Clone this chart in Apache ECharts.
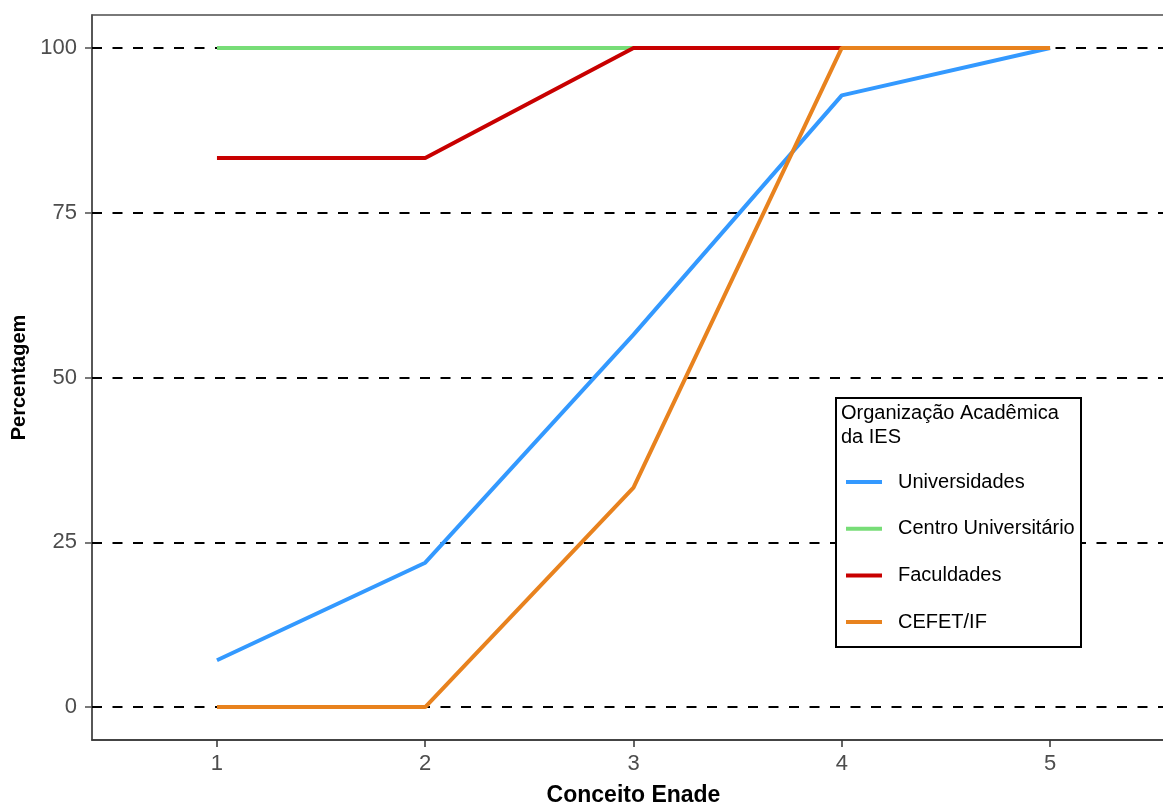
<!DOCTYPE html>
<html>
<head>
<meta charset="utf-8">
<script src="https://cdn.jsdelivr.net/npm/echarts@6/dist/echarts.min.js"></script>
<style>
html,body{margin:0;padding:0;background:#fff;}
#main{width:1163px;height:802px;}
</style>
</head>
<body>
<div id="main"></div>
<script>
const conceitos = [1, 2, 3, 4, 5];
const universidades = [7.1, 21.9, 56.5, 92.8, 100];
const centroUniversitario = [100, 100, 100, 100, 100];
const faculdades = [83.3, 83.3, 100, 100, 100];
const cefetIf = [0, 0, 33.3, 100, 100];
const seriesNames = ['Universidades', 'Centro Universitário', 'Faculdades', 'CEFET/IF'];
const seriesColors = ['#3399FF', '#77DD77', '#C80000', '#E8821E'];
const yTicks = [0, 25, 50, 75, 100];
const xTicks = [1, 2, 3, 4, 5];
const legendTitle = 'Organização Acadêmica\nda IES';

const FONT = '"Liberation Sans", Arial, sans-serif';
const values = [universidades, centroUniversitario, faculdades, cefetIf];

const chart = echarts.init(document.getElementById('main'), null, {renderer: 'canvas'});

const lineSeries = values.map((arr, i) => ({
  name: seriesNames[i],
  type: 'line',
  data: conceitos.map((c, j) => [c, arr[j]]),
  showSymbol: false,
  symbol: 'none',
  lineStyle: {color: seriesColors[i], width: 4},
  itemStyle: {color: seriesColors[i]},
  z: 10 + i,
  animation: false,
  clip: false
}));

const option = {
  animation: false,
  backgroundColor: '#fff',
  grid: {left: 92, top: 15, width: 1083, height: 725, containLabel: false, outerBoundsMode: 'none',
    show: true, borderColor: '#4d4d4d', borderWidth: 1.5, backgroundColor: 'transparent'},
  xAxis: {
    type: 'value', min: 0.4, max: 5.6,
    name: 'Conceito Enade', nameLocation: 'middle', nameGap: 44,
    nameTextStyle: {fontFamily: FONT, fontSize: 23, fontWeight: 'bold', color: '#000'},
    axisLine: {show: true, onZero: false, lineStyle: {color: '#333', width: 1.5}},
    axisTick: {show: true, customValues: xTicks, length: 7, lineStyle: {color: '#333', width: 1.5}},
    axisLabel: {customValues: xTicks, fontFamily: FONT, fontSize: 22, color: '#4d4d4d', margin: 13},
    splitLine: {show: false}
  },
  yAxis: {
    type: 'value', min: -5, max: 105,
    name: 'Percentagem', nameLocation: 'middle', nameGap: 61, nameRotate: 90,
    nameTextStyle: {fontFamily: FONT, fontSize: 20, fontWeight: 'bold', color: '#000'},
    axisLine: {show: true, onZero: false, lineStyle: {color: '#4d4d4d', width: 1.5}},
    axisTick: {show: true, customValues: yTicks, length: 7, lineStyle: {color: '#4d4d4d', width: 1.5}},
    axisLabel: {customValues: yTicks, fontFamily: FONT, fontSize: 22, color: '#4d4d4d', margin: 15, padding: [4, 0, 0, 0]},
    splitLine: {show: false}
  },
  legend: {
    data: seriesNames,
    orient: 'vertical',
    left: 846, top: 470,
    padding: 0,
    itemWidth: 36, itemHeight: 4,
    itemGap: 22.7,
    icon: 'rect',
    z: 120,
    textStyle: {fontFamily: FONT, fontSize: 20, color: '#000', lineHeight: 24, padding: [0, 0, 0, 11]}
  },
  graphic: [
    {type: 'rect', z: 100, shape: {x: 836, y: 398, width: 245, height: 249}, style: {fill: '#fff', stroke: '#000', lineWidth: 2}},
    {type: 'text', z: 101, x: 841, y: 401, style: {text: legendTitle, fontFamily: FONT, fontSize: 20, lineHeight: 24, fill: '#000', verticalAlign: 'top', align: 'left'}}
  ],
  series: [
    {
      name: '__grid', type: 'line', data: [], z: 1, silent: true,
      markLine: {
        z: 1,
        silent: true, symbol: 'none', animation: false,
        label: {show: false},
        lineStyle: {color: '#000', type: [10, 10.5], width: 2},
        data: yTicks.map(v => ({yAxis: v}))
      }
    }
  ].concat(lineSeries)
};
chart.setOption(option);
</script>
</body>
</html>
